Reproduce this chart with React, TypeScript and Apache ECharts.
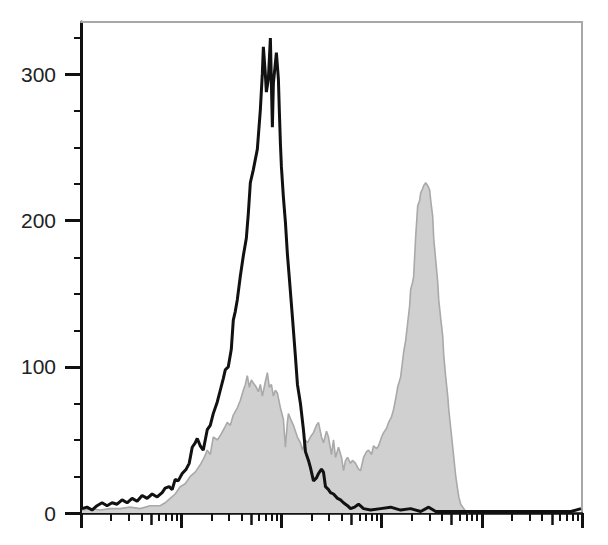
import React, { useEffect, useRef } from "react";
import * as echarts from "echarts";

// x values are log10 of fluorescence intensity (5 decades), y values are counts
const blackX = [0.01,0.06,0.11,0.16,0.21,0.26,0.31,0.36,0.41,0.46,0.51,0.56,0.61,0.66,0.71,0.76,0.81,0.84,0.88,0.91,0.94,0.97,1.01,1.05,1.08,1.11,1.14,1.16,1.19,1.22,1.26,1.29,1.32,1.36,1.39,1.42,1.44,1.47,1.50,1.52,1.54,1.56,1.59,1.62,1.65,1.67,1.69,1.72,1.76,1.79,1.81,1.82,1.84,1.85,1.87,1.89,1.91,1.92,1.95,1.97,1.98,1.99,2.00,2.02,2.04,2.06,2.08,2.11,2.14,2.16,2.19,2.22,2.24,2.27,2.29,2.32,2.35,2.37,2.40,2.42,2.44,2.47,2.49,2.52,2.56,2.59,2.62,2.66,2.69,2.73,2.77,2.82,2.89,2.99,3.09,3.19,3.29,3.39,3.47,3.54,3.69,3.89,4.09,4.29,4.49,4.69,4.89,4.99];
const blackY = [3,4,2,5,7,5,7,6,9,7,10,8,12,10,13,11,14,17,18,16,23,22,27,30,34,45,48,51,46,43,57,60,68,76,84,92,98,100,112,132,138,146,162,176,188,205,226,235,249,276,301,319,300,288,297,325,264,294,315,297,274,253,237,216,199,177,160,134,107,88,75,57,42,36,31,22,24,27,30,28,18,16,14,13,10,9,7,5,3,4,6,3,2,3,4,2,3,1,4,1,1,1,1,1,1,1,1,3];

const grayX = [0.01,0.09,0.19,0.29,0.39,0.49,0.59,0.69,0.79,0.84,0.89,0.94,0.99,1.04,1.09,1.14,1.19,1.23,1.26,1.29,1.32,1.36,1.39,1.43,1.46,1.49,1.52,1.56,1.59,1.62,1.64,1.66,1.68,1.70,1.72,1.75,1.77,1.79,1.81,1.84,1.86,1.88,1.90,1.92,1.94,1.96,1.99,2.02,2.04,2.06,2.07,2.10,2.12,2.14,2.16,2.19,2.21,2.24,2.26,2.29,2.32,2.35,2.37,2.40,2.42,2.45,2.47,2.50,2.52,2.54,2.57,2.60,2.62,2.64,2.66,2.69,2.71,2.74,2.77,2.79,2.82,2.85,2.87,2.90,2.92,2.95,2.97,3.00,3.02,3.05,3.07,3.10,3.12,3.14,3.16,3.19,3.22,3.24,3.26,3.28,3.29,3.31,3.32,3.34,3.36,3.38,3.39,3.41,3.42,3.44,3.46,3.48,3.49,3.51,3.52,3.54,3.56,3.57,3.59,3.61,3.62,3.64,3.66,3.67,3.69,3.71,3.74,3.77,3.79,3.81,3.84,3.87];
const grayY = [2,3,2,3,3,4,3,5,5,7,10,13,18,20,25,28,33,38,43,40,52,50,53,58,62,60,67,72,77,84,88,94,86,91,89,86,83,88,80,90,96,86,88,80,84,82,72,64,45,62,68,63,60,56,52,48,43,50,48,52,55,60,62,52,48,56,52,40,50,38,45,38,29,36,38,34,36,34,30,29,38,42,43,40,46,44,46,52,55,58,62,66,71,78,86,93,110,118,130,142,153,158,162,189,210,214,219,222,224,226,224,221,214,203,188,173,158,146,133,121,108,93,80,71,58,45,25,11,6,4,1,0];

const decades = [0, 1, 2, 3, 4, 5];
const mediumMultipliers = [5];
const minorMultipliers = [2, 3, 4, 6, 7, 8, 9];
const yMajorTicks = [0, 100, 200, 300];
const yMinorTicks = [25, 50, 75, 125, 150, 175, 225, 250, 275, 325];

const X_MIN = 0;
const X_MAX = 5;
const Y_MIN = 0;
const Y_MAX = 336;

function decadeTicks(mults: number[]) {
  const out: number[] = [];
  for (let k = 0; k < 5; k++) {
    for (const m of mults) out.push(k + Math.log10(m));
  }
  return out;
}

export default function App() {
  const ref = useRef<HTMLDivElement>(null);
  useEffect(() => {
    if (!ref.current) return;
    const chart = echarts.init(ref.current, undefined, { renderer: "svg" });
    const gridPos = { left: 81, right: 26, top: 22, bottom: 32 };
    const hiddenLabel = { show: false };
    const baseX = { type: "value", min: X_MIN, max: X_MAX, splitLine: { show: false } } as any;
    const baseY = { type: "value", min: Y_MIN, max: Y_MAX, splitLine: { show: false } } as any;
    const option: any = {
      animation: false,
      backgroundColor: "#ffffff",
      grid: [
        { ...gridPos },
        { ...gridPos },
        { ...gridPos },
        { ...gridPos },
      ],
      xAxis: [
        {
          ...baseX,
          gridIndex: 0,
          position: "bottom",
          axisLine: { show: true, onZero: false, lineStyle: { color: "#111", width: 2.5 } },
          axisTick: { show: true, customValues: decades, length: 15, lineStyle: { color: "#111", width: 3 } },
          axisLabel: hiddenLabel,
        },
        {
          ...baseX,
          gridIndex: 1,
          position: "bottom",
          axisLine: { show: false, onZero: false },
          axisTick: { show: true, customValues: decadeTicks(mediumMultipliers), length: 12, lineStyle: { color: "#111", width: 2.5 } },
          axisLabel: hiddenLabel,
        },
        {
          ...baseX,
          gridIndex: 2,
          position: "bottom",
          axisLine: { show: false, onZero: false },
          axisTick: { show: true, customValues: decadeTicks(minorMultipliers), length: 8, lineStyle: { color: "#111", width: 2 } },
          axisLabel: hiddenLabel,
        },
        {
          ...baseX,
          gridIndex: 3,
          position: "top",
          axisLine: { show: true, onZero: false, lineStyle: { color: "#a8a8a8", width: 2 } },
          axisTick: { show: false },
          axisLabel: hiddenLabel,
        },
      ],
      yAxis: [
        {
          ...baseY,
          gridIndex: 0,
          position: "left",
          axisLine: { show: true, onZero: false, lineStyle: { color: "#111", width: 3 } },
          axisTick: { show: true, customValues: yMajorTicks, length: 16, lineStyle: { color: "#111", width: 3 } },
          axisLabel: {
            show: true,
            customValues: yMajorTicks,
            margin: 25,
            fontFamily: "Liberation Sans, Arial, sans-serif",
            fontSize: 21,
            color: "#222",
          },
        },
        {
          ...baseY,
          gridIndex: 1,
          position: "left",
          axisLine: { show: false, onZero: false },
          axisTick: { show: true, customValues: yMinorTicks, length: 7, lineStyle: { color: "#111", width: 2 } },
          axisLabel: hiddenLabel,
        },
        {
          ...baseY,
          gridIndex: 2,
          show: false,
        },
        {
          ...baseY,
          gridIndex: 3,
          position: "right",
          axisLine: { show: true, onZero: false, lineStyle: { color: "#a8a8a8", width: 2 } },
          axisTick: { show: false },
          axisLabel: hiddenLabel,
        },
      ],
      series: [
        {
          name: "stained",
          type: "line",
          xAxisIndex: 0,
          yAxisIndex: 0,
          data: grayX.map((x, i) => [x, grayY[i]]),
          showSymbol: false,
          symbol: "none",
          lineStyle: { color: "#a9a9a9", width: 1.6 },
          areaStyle: { color: "#d0d0d0", opacity: 1, origin: "start" },
          z: 2,
        },
        {
          name: "control",
          type: "line",
          xAxisIndex: 0,
          yAxisIndex: 0,
          data: blackX.map((x, i) => [x, blackY[i]]),
          showSymbol: false,
          symbol: "none",
          lineStyle: { color: "#111", width: 3 },
          z: 3,
        },
      ],
    };
    chart.setOption(option);
    return () => chart.dispose();
  }, []);
  return (
    <div
      ref={ref}
      style={{ position: "absolute", left: 0, top: 0, width: 608, height: 545, background: "#fff" }}
    />
  );
}
